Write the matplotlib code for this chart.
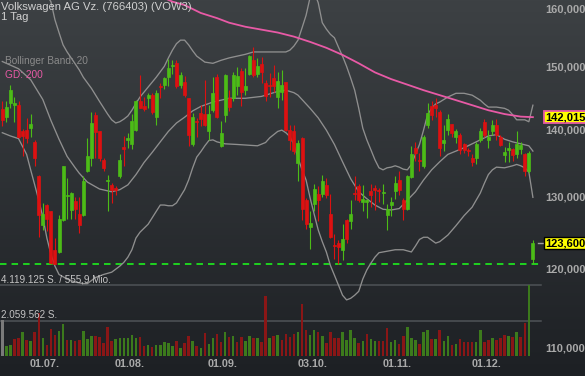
import math
import numpy as np
import matplotlib
matplotlib.use("Agg")
import matplotlib.pyplot as plt
import matplotlib.transforms as mtrans

plt.rcParams['font.family'] = ['Liberation Sans', 'DejaVu Sans']

# ---------------- data ----------------
title = "Volkswagen AG Vz. (766403) (VOW3)"
interval = "1 Tag"
turnover = "555,9 Mio."

opens = [143.3, 142.0, 144.2, 143.9, 143.9, 139.8, 140.0, 140.3, 138.2, 133.1,
         126.1, 128.9, 128.0, 122.7, 122.4, 126.8, 130.2, 128.2, 129.5, 127.7,
         127.5, 133.8, 135.7, 142.3, 139.8, 135.5, 132.4, 131.8, 131.3, 133.1,
         137.4, 138.5, 137.9, 140.0, 144.5, 143.7, 145.0, 145.5, 142.0, 147.0,
         147.2, 148.5, 150.2, 150.8, 147.1, 147.6, 145.0, 137.9, 141.4, 142.6,
         142.5, 139.8, 143.1, 148.4, 137.5, 142.3, 145.0, 145.0, 146.9, 149.4,
         146.3, 149.0, 151.2, 149.0, 150.6, 147.4, 147.2, 148.2, 145.2, 146.0,
         147.6, 140.0, 139.8, 135.0, 138.8, 129.6, 125.8, 129.1, 130.5, 130.5,
         131.8, 127.7, 123.4, 123.6, 122.6, 126.8, 126.6, 130.6, 131.6, 129.3,
         129.3, 130.9, 131.4, 131.0, 130.6, 127.5, 128.9, 130.9, 132.5, 129.6,
         128.4, 132.9, 137.2, 135.5, 134.5, 140.8, 143.8, 144.0, 142.9, 138.1,
         140.0, 140.9, 139.0, 139.3, 137.8, 136.9, 135.7, 135.7, 138.5, 141.2,
         138.5, 139.8, 140.8, 139.0, 136.2, 137.0, 137.1, 136.3, 137.1, 136.4,
         133.8, 121.5]
highs = [144.5, 144.6, 147.1, 145.2, 144.5, 140.2, 141.9, 142.5, 138.5, 133.2,
         129.2, 129.1, 128.1, 124.3, 127.5, 134.6, 132.8, 130.8, 130.0, 130.1,
         133.1, 138.8, 142.9, 142.8, 139.9, 135.7, 133.3, 132.0, 131.6, 136.3,
         139.1, 139.5, 142.5, 144.7, 148.8, 145.2, 145.8, 145.8, 146.3, 147.4,
         148.5, 151.5, 151.2, 151.2, 149.3, 148.6, 145.1, 142.6, 141.9, 143.9,
         147.9, 143.9, 148.5, 148.9, 141.4, 148.9, 146.3, 149.3, 150.1, 149.9,
         149.9, 152.1, 153.4, 151.6, 151.7, 147.9, 149.1, 150.4, 149.3, 149.6,
         147.7, 140.8, 140.8, 138.5, 138.9, 129.9, 128.0, 131.9, 131.6, 133.3,
         132.8, 130.5, 124.9, 124.0, 126.2, 127.0, 129.6, 133.1, 131.9, 131.8,
         129.7, 131.9, 131.8, 131.4, 131.9, 129.1, 130.0, 133.1, 133.8, 129.9,
         133.3, 137.5, 138.2, 136.5, 139.3, 144.2, 144.6, 145.0, 143.1, 140.8,
         142.5, 141.0, 140.2, 139.5, 138.0, 137.2, 136.3, 138.2, 140.4, 141.7,
         140.0, 141.6, 141.7, 139.3, 137.4, 138.2, 137.2, 139.8, 138.2, 136.5,
         136.8, 124.0]
lows = [140.6, 141.3, 143.4, 141.3, 138.8, 136.0, 138.0, 138.9, 134.5, 124.5,
        125.4, 125.2, 120.8, 120.8, 122.2, 126.6, 127.0, 127.0, 127.0, 125.0,
        127.4, 133.7, 134.5, 135.7, 135.3, 133.8, 128.0, 129.2, 130.4, 132.8,
        134.5, 137.2, 137.1, 139.8, 143.4, 143.0, 143.4, 142.5, 140.8, 145.0,
        146.5, 146.9, 148.9, 146.6, 146.6, 145.2, 137.5, 137.5, 139.0, 140.6,
        140.6, 138.5, 142.9, 141.9, 137.4, 141.2, 143.0, 144.6, 145.5, 143.7,
        145.6, 148.8, 148.5, 148.5, 147.4, 144.5, 145.2, 146.0, 143.4, 144.7,
        139.8, 136.9, 136.4, 132.3, 126.8, 125.6, 122.8, 128.0, 126.6, 130.0,
        129.9, 124.3, 121.5, 120.8, 121.3, 123.6, 125.5, 129.6, 129.3, 128.0,
        127.1, 128.6, 128.2, 129.3, 129.1, 125.4, 127.3, 129.8, 130.4, 126.8,
        128.2, 132.8, 135.3, 133.8, 134.3, 140.3, 141.6, 142.1, 136.0, 136.8,
        139.3, 139.0, 138.0, 136.3, 136.5, 136.0, 134.5, 134.8, 138.2, 139.0,
        137.2, 139.3, 138.5, 137.5, 135.2, 135.2, 135.3, 135.7, 136.3, 133.1,
        133.5, 120.8]
closes = [141.6, 143.6, 146.3, 144.3, 139.0, 139.1, 138.8, 140.9, 135.7, 127.5,
          127.6, 127.0, 120.95, 120.85, 127.0, 134.5, 130.3, 130.6, 128.3, 126.1,
          132.3, 136.0, 141.1, 139.7, 135.7, 134.3, 132.5, 131.0, 131.1, 135.5,
          137.1, 138.8, 141.4, 144.5, 143.5, 143.3, 145.5, 142.9, 145.8, 146.8,
          148.2, 150.0, 150.5, 146.9, 148.8, 145.6, 139.3, 142.0, 141.3, 141.7,
          140.8, 142.5, 145.8, 142.1, 139.5, 148.8, 143.6, 148.7, 148.6, 146.0,
          146.9, 151.9, 148.7, 150.2, 149.3, 145.3, 147.0, 146.9, 147.8, 147.2,
          140.0, 138.5, 136.8, 138.1, 128.4, 126.2, 126.4, 131.2, 129.6, 132.4,
          130.3, 124.5, 123.2, 123.1, 124.1, 124.2, 127.7, 130.5, 129.6, 129.8,
          129.6, 130.3, 131.1, 130.9, 130.7, 128.4, 129.3, 132.0, 131.0, 128.4,
          133.1, 136.3, 136.5, 135.3, 139.0, 142.6, 142.4, 143.4, 137.2, 138.5,
          141.7, 139.5, 139.8, 137.0, 136.9, 136.8, 135.1, 137.8, 139.8, 139.3,
          139.0, 140.8, 139.3, 137.7, 136.6, 137.2, 136.2, 137.8, 137.7, 133.8,
          136.5, 123.6]
# volume in million shares
volumes = [2.09, 0.58, 0.62, 0.97, 1.06, 1.37, 0.93, 0.87, 1.39, 2.51,
           1.06, 0.62, 1.55, 1.22, 1.45, 1.84, 0.93, 0.93, 0.87, 0.93,
           1.45, 0.97, 1.16, 1.18, 1.12, 0.74, 1.67, 0.87, 0.97, 1.03,
           1.06, 1.03, 1.22, 1.03, 1.12, 0.60, 0.62, 0.54, 0.62, 0.66,
           0.79, 0.74, 0.58, 0.85, 0.45, 0.74, 1.18, 0.87, 0.60, 0.48,
           1.32, 0.70, 1.06, 1.26, 0.81, 1.39, 1.08, 1.16, 0.81, 1.12,
           0.87, 1.16, 1.03, 1.03, 0.81, 3.48, 1.06, 1.18, 1.22, 0.93,
           1.28, 1.08, 1.26, 1.37, 3.02, 1.51, 1.22, 1.51, 1.41, 1.16,
           0.77, 1.37, 1.06, 1.03, 1.39, 0.93, 1.49, 1.06, 0.77, 0.87,
           1.26, 0.97, 0.87, 0.87, 0.87, 1.61, 0.83, 0.91, 0.71, 1.14,
           1.68, 1.06, 0.95, 0.71, 1.37, 1.53, 0.97, 1.00, 1.53, 0.87,
           1.14, 0.62, 0.71, 1.00, 0.81, 0.81, 0.81, 0.81, 1.49, 0.81,
           0.95, 1.06, 0.95, 1.04, 1.20, 1.14, 1.10, 1.39, 1.10, 1.93,
           4.119125, 0.0]

tick_idx = [10, 31, 54, 76, 97, 119]
tick_labels = ["01.07.", "01.08.", "01.09.", "03.10.", "01.11.", "01.12."]
price_ticks = [110, 120, 130, 140, 150, 160]

bb_upper = [(0, 172.0), (4, 169.0), (8, 165.5), (10, 163.5), (12, 161.3), (13, 158.1),
            (14, 155.9), (15, 153.8), (16, 152.6), (17, 151.6), (18, 150.6), (19, 149.6),
            (20, 148.4), (22, 146.6), (24, 144.5), (26, 142.5), (27, 141.6), (28, 141.1),
            (29, 141.3), (30, 141.7), (31, 142.2), (32, 143.1), (33, 144.2), (34, 145.2),
            (36, 146.8), (38, 148.4), (40, 150.2), (41, 151.6), (42, 152.9), (43, 154.0),
            (44, 154.6), (45, 154.6), (46, 153.8), (47, 152.8), (48, 151.9), (49, 151.4),
            (50, 150.9), (52, 150.7), (54, 151.2), (56, 151.6), (58, 151.9), (60, 152.2),
            (62, 152.6), (66, 152.6), (70, 152.6), (71, 152.9), (72, 153.6), (73, 154.6),
            (74, 156.7), (75, 158.9), (76, 162.1), (77, 163.0), (78, 161.1), (79, 157.6),
            (80, 156.5), (81, 155.6), (82, 155.0), (83, 153.4), (84, 151.9), (85, 150.2),
            (86, 148.3), (87, 146.3), (88, 143.4), (89, 140.3), (90, 138.5), (91, 137.0),
            (92, 135.5), (93, 134.3), (94, 134.0), (95, 134.3), (96, 134.4), (97, 134.6),
            (98, 134.4), (99, 134.1), (100, 134.0), (101, 134.8), (102, 136.3), (103, 137.8),
            (104, 140.0), (105, 142.4), (106, 143.4), (107, 144.1), (108, 144.4), (110, 145.2),
            (112, 145.8), (114, 145.8), (116, 145.5), (118, 144.7), (119, 144.1), (120, 143.6),
            (122, 143.6), (124, 143.4), (125, 143.1), (126, 142.4), (127, 141.6), (128, 141.6),
            (129, 141.6), (130, 141.3), (131, 143.9)]
bb_middle = [(0, 151.0), (4, 149.8), (7, 148.0), (10, 144.8), (12, 141.5), (14, 138.6),
             (16, 136.0), (18, 134.3), (19, 133.5), (21, 132.2), (24, 131.2), (27, 130.8),
             (29, 131.1), (31, 131.8), (33, 133.3), (35, 135.1), (37, 136.6), (39, 138.2),
             (41, 139.8), (43, 141.1), (45, 142.0), (47, 143.0), (49, 143.7), (52, 144.4),
             (56, 145.0), (60, 145.0), (64, 145.3), (68, 146.1), (70, 146.3), (72, 145.9),
             (73, 145.5), (74, 144.8), (76, 143.4), (78, 141.9), (80, 140.0), (82, 137.8),
             (84, 135.2), (86, 132.7), (88, 130.8), (90, 129.8), (92, 128.9), (94, 128.3),
             (96, 128.2), (98, 128.4), (100, 129.6), (102, 130.8), (104, 132.5), (106, 134.0),
             (108, 135.2), (110, 136.3), (112, 136.8), (114, 137.3), (116, 137.9), (118, 138.5),
             (120, 139.1), (122, 139.3), (124, 138.6), (126, 138.2), (128, 137.9), (130, 137.6),
             (131, 136.8)]
bb_lower = [(0, 139.6), (2, 139.1), (4, 138.7), (6, 136.3), (7, 134.0), (8, 131.8),
            (9, 129.6), (10, 127.2), (11, 124.3), (12, 122.1), (13, 120.5), (14, 119.4),
            (16, 118.8), (18, 118.4), (20, 118.2), (21, 118.2), (23, 119.0), (25, 119.4),
            (27, 119.7), (29, 120.5), (30, 121.0), (31, 121.7), (32, 122.7), (33, 124.3),
            (34, 125.1), (36, 126.2), (38, 128.0), (39, 128.9), (40, 128.9), (41, 128.8),
            (42, 128.8), (43, 129.2), (45, 131.1), (46, 132.5), (47, 134.3), (48, 135.9),
            (49, 136.7), (50, 137.6), (51, 138.4), (52, 138.5), (53, 138.2), (55, 137.9),
            (58, 137.8), (63, 137.6), (65, 138.1), (66, 138.8), (68, 139.8), (69, 140.0),
            (70, 139.6), (71, 139.0), (72, 137.8), (73, 135.8), (74, 134.0), (75, 132.5),
            (76, 129.9), (77, 127.6), (78, 125.4), (79, 123.8), (80, 122.4), (81, 120.6),
            (82, 119.3), (83, 118.0), (84, 116.7), (85, 116.1), (86, 116.3), (87, 116.7),
            (88, 117.2), (89, 118.8), (90, 120.0), (91, 120.9), (92, 121.7), (93, 122.3),
            (95, 122.5), (97, 122.7), (99, 122.7), (101, 122.4), (102, 123.2), (103, 124.1),
            (104, 124.4), (105, 124.4), (106, 124.0), (107, 123.6), (108, 123.8), (110, 124.7),
            (112, 126.0), (114, 127.4), (116, 128.6), (117, 129.6), (118, 130.6), (119, 132.0),
            (120, 133.3), (121, 134.0), (122, 134.4), (124, 134.3), (126, 134.6), (127, 134.8),
            (128, 134.6), (129, 134.3), (130, 133.7), (131, 130.0)]
gd200 = [(38, 162.6), (42, 161.3), (45, 160.7), (49, 159.3), (53, 158.4), (56, 157.6),
         (60, 156.9), (64, 156.4), (68, 155.9), (72, 155.2), (76, 154.3), (80, 153.3),
         (84, 152.1), (88, 150.7), (92, 149.2), (96, 148.1), (100, 147.2), (104, 146.3),
         (108, 145.5), (112, 144.7), (116, 143.9), (120, 143.1), (124, 142.5), (128, 142.1),
         (131, 142.015)]

# ---------------- style ----------------
GREEN = '#4cbc17'
RED = '#dd1111'
VGREEN = '#3c7a1c'
VRED = '#8a1616'
VGRAY = '#7a7a7a'
BAND = '#8f8f8f'
PINK = '#e85aa6'
AXTXT = '#a9a9a9'
GRID = '#4f5357'

W, H = 585, 376
fig = plt.figure(figsize=(W / 100, H / 100), dpi=100)

# background gradient
bg = fig.add_axes([0, 0, 1, 1], zorder=-10)
t = np.linspace(0, 1, 256)[:, None, None]
top = np.array([61, 65, 68]) / 255.0
bot = np.array([29, 32, 36]) / 255.0
img = top + (bot - top) * t
bg.imshow(img, aspect='auto', extent=[0, 1, 0, 1], origin='upper')
bg.axis('off')

# price axes (log scale)
ax = fig.add_axes([0, 20 / H, 541 / W, 356 / H], zorder=2)
ax.set_facecolor('none')
ax.set_yscale('log')
ax.set_ylim(160 * math.exp(-347 / 907), 160 * math.exp(9 / 907))
ax.axis('off')

# volume axes
vax = fig.add_axes([0, 20 / H, 541 / W, 71 / H], zorder=1, sharex=ax)
vax.set_facecolor('none')
vmax = max(volumes)
vax.set_ylim(0, vmax)
vax.axis('off')
ax.set_xlim(-0.57, 133.0)

n = len(closes)
x = np.arange(n)
o = np.array(opens); c = np.array(closes)
hi = np.array(highs); lo = np.array(lows)
ccol = [GREEN if c[i] >= o[i] else RED for i in range(n)]

# volume bars (colour by change to previous close)
vcol = [VGRAY] + [VGREEN if c[i] >= c[i - 1] else VRED for i in range(1, n)]
vax.bar(x, volumes, width=0.62, color=vcol, linewidth=0, zorder=2)
for lv in (vmax, vmax / 2):
    vax.axhline(lv, color=GRID, lw=1.1, zorder=1, clip_on=False)

# support line (period low)
low_level = min(lows)
ax.axhline(low_level, color='#1fe01f', lw=1.3, dashes=(3.6, 2.8), zorder=2)

# bands
def draw_line(pairs, color, lw, z):
    xs = [p[0] for p in pairs]
    ys = [p[1] for p in pairs]
    ax.plot(xs, ys, color=color, lw=lw, zorder=z, solid_joinstyle='round')

draw_line(bb_upper, BAND, 0.95, 3)
draw_line(bb_middle, BAND, 0.95, 3)
draw_line(bb_lower, BAND, 0.95, 3)
draw_line(gd200, PINK, 1.3, 3)

# candles
ax.vlines(x, lo, hi, colors=ccol, lw=0.8, zorder=4)
ax.bar(x, np.abs(c - o), bottom=np.minimum(o, c), width=0.74, color=ccol,
       edgecolor=ccol, linewidth=0.5, zorder=5)

# right price scale
tr_fy = mtrans.blended_transform_factory(fig.transFigure, ax.transData)
for v in price_ticks:
    ax.text(545 / W, v, f"{v:.3f}".replace('.', ','), transform=tr_fy, ha='left',
            va='center', fontsize=8, color=AXTXT, fontweight='bold', clip_on=False)

gd_last = gd200[-1][1]
ax.text(545 / W, gd_last, f"{gd_last:.3f}".replace('.', ','), transform=tr_fy,
        ha='left', va='center', fontsize=8, color='black', fontweight='bold', zorder=20,
        clip_on=False, bbox=dict(boxstyle='square,pad=0.12', fc='#ffff00', ec=PINK, lw=1.3))
last = closes[-1]
ax.plot([538 / W, 543 / W], [last, last], transform=tr_fy, color='#a0a0a0', lw=1,
        clip_on=False, zorder=20)
ax.text(545 / W, last, f"{last:.3f}".replace('.', ','), transform=tr_fy,
        ha='left', va='center', fontsize=8, color='black', fontweight='bold', zorder=20,
        clip_on=False, bbox=dict(boxstyle='square,pad=0.12', fc='#ffff00', ec='black', lw=1.0))

# date labels
tr_xf = mtrans.blended_transform_factory(ax.transData, fig.transFigure)
for ti, tl in zip(tick_idx, tick_labels):
    ax.text(ti + 0.5, 1 - 364 / H, tl, transform=tr_xf, ha='center', va='center',
            fontsize=7.8, color=AXTXT, fontweight='bold', clip_on=False)

# header texts
fig.text(1 / W, 1 - 7.5 / H, title, fontsize=8.1, color='#d0d0d0', va='center', ha='left')
fig.text(1 / W, 1 - 17.5 / H, interval, fontsize=8.1, color='#d0d0d0', va='center', ha='left')
fig.text(5 / W, 1 - 61 / H, "Bollinger Band: 20", fontsize=7.3, color='#8a8a8a', va='center')
fig.text(5 / W, 1 - 75.5 / H, "GD: 200", fontsize=7.3, color=PINK, va='center')

# volume labels
vshares = int(round(vmax * 1e6))
fmt = lambda s: f"{s:,}".replace(',', '.')
fig.text(1 / W, 1 - 280 / H, f"{fmt(vshares)} S. / {turnover}", fontsize=7.1,
         color='#c4c4c4', va='center')
fig.text(1 / W, 1 - 314.5 / H, f"{fmt(vshares // 2)} S.", fontsize=7.1,
         color='#c4c4c4', va='center')

fig.savefig("out.png", dpi=100)
